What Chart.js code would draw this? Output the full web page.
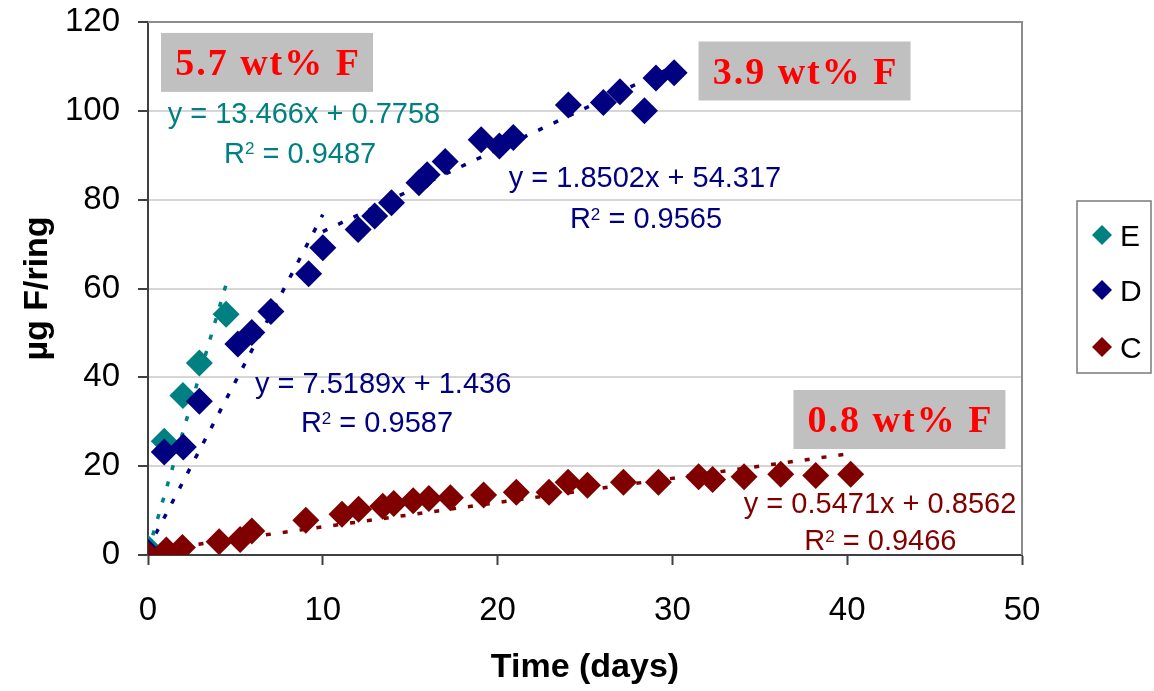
<!DOCTYPE html>
<html><head><meta charset="utf-8">
<script src="https://cdn.jsdelivr.net/npm/chart.js@4.4.1/dist/chart.umd.min.js"></script>
<style>html,body{margin:0;padding:0;background:#fff;} #wrap{width:1154px;height:691px;position:relative}</style>
</head><body><div id="wrap"><canvas id="c" width="1154" height="691"></canvas></div>
<script>
// ---- data ----
const seriesNames = ['E', 'D', 'C'];
const eDays   = [0, 0.93, 2.0, 2.94, 4.47];
const eValues = [1.5, 25.6, 35.9, 43.2, 54.2];
const dDays   = [0, 0.93, 2.02, 2.94, 5.14, 5.94, 7.03, 9.19, 10.0, 12.02, 12.97, 13.93, 15.5, 15.97, 17.0, 19.06, 20.1, 20.9, 24.05, 26.05, 27.0, 28.4, 29.06, 30.1];
const dValues = [0.6, 23.2, 24.3, 34.6, 47.5, 50.1, 54.8, 63.3, 69.2, 73.3, 76.3, 79.3, 83.8, 85.6, 88.6, 93.5, 92.1, 94.0, 101.3, 101.9, 104.3, 100.0, 107.4, 108.6];
const cDays   = [0, 1.05, 1.97, 4.07, 5.27, 5.94, 9.03, 11.1, 12.05, 13.43, 14.06, 15.17, 16.07, 17.3, 19.2, 21.07, 22.94, 24.03, 25.14, 27.2, 29.2, 31.5, 32.3, 34.1, 36.2, 38.2, 40.2];
const cValues = [0, 1.1, 1.7, 3.0, 3.5, 5.4, 7.8, 9.2, 10.3, 11.0, 11.6, 12.2, 12.7, 12.9, 13.5, 14.1, 14.1, 16.4, 15.7, 16.4, 16.4, 17.6, 17.0, 17.6, 18.2, 17.9, 18.2];

const trendSeries     = ['E', 'D', 'D', 'C'];
const trendSlopes     = [13.466, 7.5189, 1.8502, 0.5471];
const trendIntercepts = [0.7758, 1.436, 54.317, 0.8562];
const trendStart      = [0, 0, 10, 0];
const trendEnd        = [4.47, 10, 30.1, 40.2];
const eqTexts = ['y = 13.466x + 0.7758', 'y = 7.5189x + 1.436', 'y = 1.8502x + 54.317', 'y = 0.5471x + 0.8562'];
const r2Texts = ['R²= 0.9487', 'R²= 0.9587', 'R²= 0.9565', 'R²= 0.9466'];
const boxTexts = ['5.7 wt% F', '3.9 wt% F', '0.8 wt% F'];

const xTickValues = [0, 10, 20, 30, 40, 50];
const yTickValues = [0, 20, 40, 60, 80, 100, 120];
const xTitle = 'Time (days)';
const yTitle = 'µg F/ring';

// ---- styles ----
const colors = { E: '#008080', D: '#000080', C: '#800000' };
const FONT = '"Liberation Sans", Arial, sans-serif';
Chart.defaults.font.family = FONT;
Chart.defaults.color = '#000';

function pts(xs, ys) { return xs.map((x, i) => ({ x: x, y: ys[i] })); }
const pointSets = { E: pts(eDays, eValues), D: pts(dDays, dValues), C: pts(cDays, cValues) };
const pointOrder = { E: 3, D: 2, C: 1 };

const datasets = [];
seriesNames.forEach(n => {
  datasets.push({
    label: n, data: pointSets[n], showLine: false,
    pointStyle: 'rectRot', pointRadius: 13.5, pointHoverRadius: 13.5,
    backgroundColor: colors[n], borderColor: colors[n], borderWidth: 0,
    order: pointOrder[n]
  });
});
trendSeries.forEach((n, i) => {
  datasets.push({
    label: 'trend ' + n + i,
    data: [
      { x: trendStart[i], y: trendSlopes[i] * trendStart[i] + trendIntercepts[i] },
      { x: trendEnd[i], y: trendSlopes[i] * trendEnd[i] + trendIntercepts[i] }
    ],
    showLine: true, pointRadius: 0, borderColor: colors[n], borderWidth: 3.5,
    borderDash: [5, 12], borderCapStyle: 'butt', fill: false, order: 10
  });
});

// annotation placement (data coordinates of text centres)
const eqPos = [[8.92, 99.6], [13.45, 38.8], [28.43, 85.1], [41.88, 11.8]];
const r2Pos = [[8.70, 90.7], [13.1, 30.0], [28.49, 75.9], [41.9, 3.4]];
const eqColor = ['E', 'D', 'D', 'C'];
const boxPos = [[6.81, 110.9], [37.56, 108.97], [42.99, 30.5]];

function drawR2(ctx, text, cx, cy, color) {
  const fs = 29;
  const parts = text.split('²');
  const base = cy + 0.358 * fs;
  ctx.font = fs + 'px ' + FONT;
  const w1 = ctx.measureText(parts[0]).width;
  const w3 = ctx.measureText(' ' + parts[1]).width;
  ctx.font = '17px ' + FONT;
  const w2 = ctx.measureText('2').width;
  const total = w1 + w2 + w3;
  let x = cx - total / 2;
  ctx.fillStyle = color; ctx.textAlign = 'left'; ctx.textBaseline = 'alphabetic';
  ctx.font = fs + 'px ' + FONT; ctx.fillText(parts[0], x, base); x += w1;
  ctx.font = '17px ' + FONT; ctx.fillText('2', x, base - 8.6); x += w2;
  ctx.font = fs + 'px ' + FONT; ctx.fillText(' ' + parts[1], x, base);
}

const decor = {
  id: 'decor',
  beforeDatasetsDraw(chart) {
    const { ctx, chartArea: a } = chart;
    ctx.save();
    ctx.strokeStyle = '#8c8c8c'; ctx.lineWidth = 2;
    ctx.beginPath(); ctx.moveTo(a.left, a.top); ctx.lineTo(a.right, a.top); ctx.lineTo(a.right, a.bottom); ctx.stroke();
    ctx.restore();
  },
  afterDraw(chart) {
    const { ctx } = chart;
    const xs = chart.scales.x, ys = chart.scales.y;
    ctx.save();
    // equations
    eqTexts.forEach((t, i) => {
      const col = colors[eqColor[i]];
      const cx = xs.getPixelForValue(eqPos[i][0]), cy = ys.getPixelForValue(eqPos[i][1]);
      ctx.font = '29px ' + FONT; ctx.fillStyle = col; ctx.textAlign = 'center'; ctx.textBaseline = 'alphabetic';
      ctx.fillText(t, cx, cy + 0.358 * 29);
      drawR2(ctx, r2Texts[i], xs.getPixelForValue(r2Pos[i][0]), ys.getPixelForValue(r2Pos[i][1]), col);
    });
    // grey boxes with red labels
    boxTexts.forEach((t, i) => {
      const cx = xs.getPixelForValue(boxPos[i][0]), cy = ys.getPixelForValue(boxPos[i][1]);
      const bw = 212, bh = 59;
      ctx.fillStyle = '#c0c0c0';
      ctx.fillRect(cx - bw / 2, cy - bh / 2, bw, bh);
      ctx.font = 'bold 38px "Liberation Serif", "Times New Roman", serif';
      try { ctx.letterSpacing = '2px'; } catch (e) {}
      ctx.fillStyle = '#ff0000'; ctx.textAlign = 'left'; ctx.textBaseline = 'alphabetic';
      const w = ctx.measureText(t).width;
      ctx.fillText(t, cx - w / 2 + 1, cy + 0.34 * 38);
      try { ctx.letterSpacing = '0px'; } catch (e) {}
    });
    // legend
    const lx = 1077, ly = 201, lw = 74, lh = 172;
    ctx.strokeStyle = '#7a7a7a'; ctx.lineWidth = 1.5;
    ctx.strokeRect(lx, ly, lw, lh);
    const itemY = [235, 290, 347];
    seriesNames.forEach((n, i) => {
      const mx = 1102, my = itemY[i], r = 10;
      ctx.fillStyle = colors[n];
      ctx.beginPath(); ctx.moveTo(mx, my - r); ctx.lineTo(mx + r, my); ctx.lineTo(mx, my + r); ctx.lineTo(mx - r, my); ctx.closePath(); ctx.fill();
      ctx.fillStyle = '#000'; ctx.font = '30px ' + FONT; ctx.textAlign = 'left'; ctx.textBaseline = 'alphabetic';
      ctx.fillText(n, 1120, my + 0.358 * 30);
    });
    ctx.restore();
  }
};

new Chart(document.getElementById('c'), {
  type: 'scatter',
  data: { datasets: datasets },
  options: {
    responsive: false, animation: false, devicePixelRatio: 1,
    layout: { padding: { left: 0, top: 22, right: 132, bottom: 0 } },
    plugins: { legend: { display: false }, tooltip: { enabled: false } },
    scales: {
      x: {
        type: 'linear', min: 0, max: 50,
        afterBuildTicks: s => { s.ticks = xTickValues.map(v => ({ value: v })); },
        afterFit: s => { s.height = 136; s.paddingLeft = 0; s.paddingRight = 0; },
        ticks: { font: { size: 33 }, color: '#000', padding: 26, maxRotation: 0 },
        grid: { drawOnChartArea: false, drawTicks: true, tickLength: 10, tickColor: '#404040', tickWidth: 2 },
        border: { display: true, color: '#404040', width: 2 },
        title: { display: true, text: xTitle, font: { size: 34, weight: 'bold' }, color: '#000', padding: { top: 0, bottom: 3 } }
      },
      y: {
        type: 'linear', min: 0, max: 120,
        afterBuildTicks: s => { s.ticks = yTickValues.map(v => ({ value: v })); },
        afterFit: s => { s.width = 148; s.paddingTop = 0; s.paddingBottom = 0; },
        ticks: { font: { size: 33 }, color: '#000', padding: 18 },
        grid: { color: '#d6d6d6', lineWidth: 2, tickLength: 10, tickColor: '#404040', tickWidth: 2 },
        border: { display: true, color: '#404040', width: 2 },
        title: { display: true, text: yTitle, font: { size: 34, weight: 'bold' }, color: '#000', padding: { top: 17, bottom: 0 } }
      }
    }
  },
  plugins: [decor]
});
</script>
</body></html>
